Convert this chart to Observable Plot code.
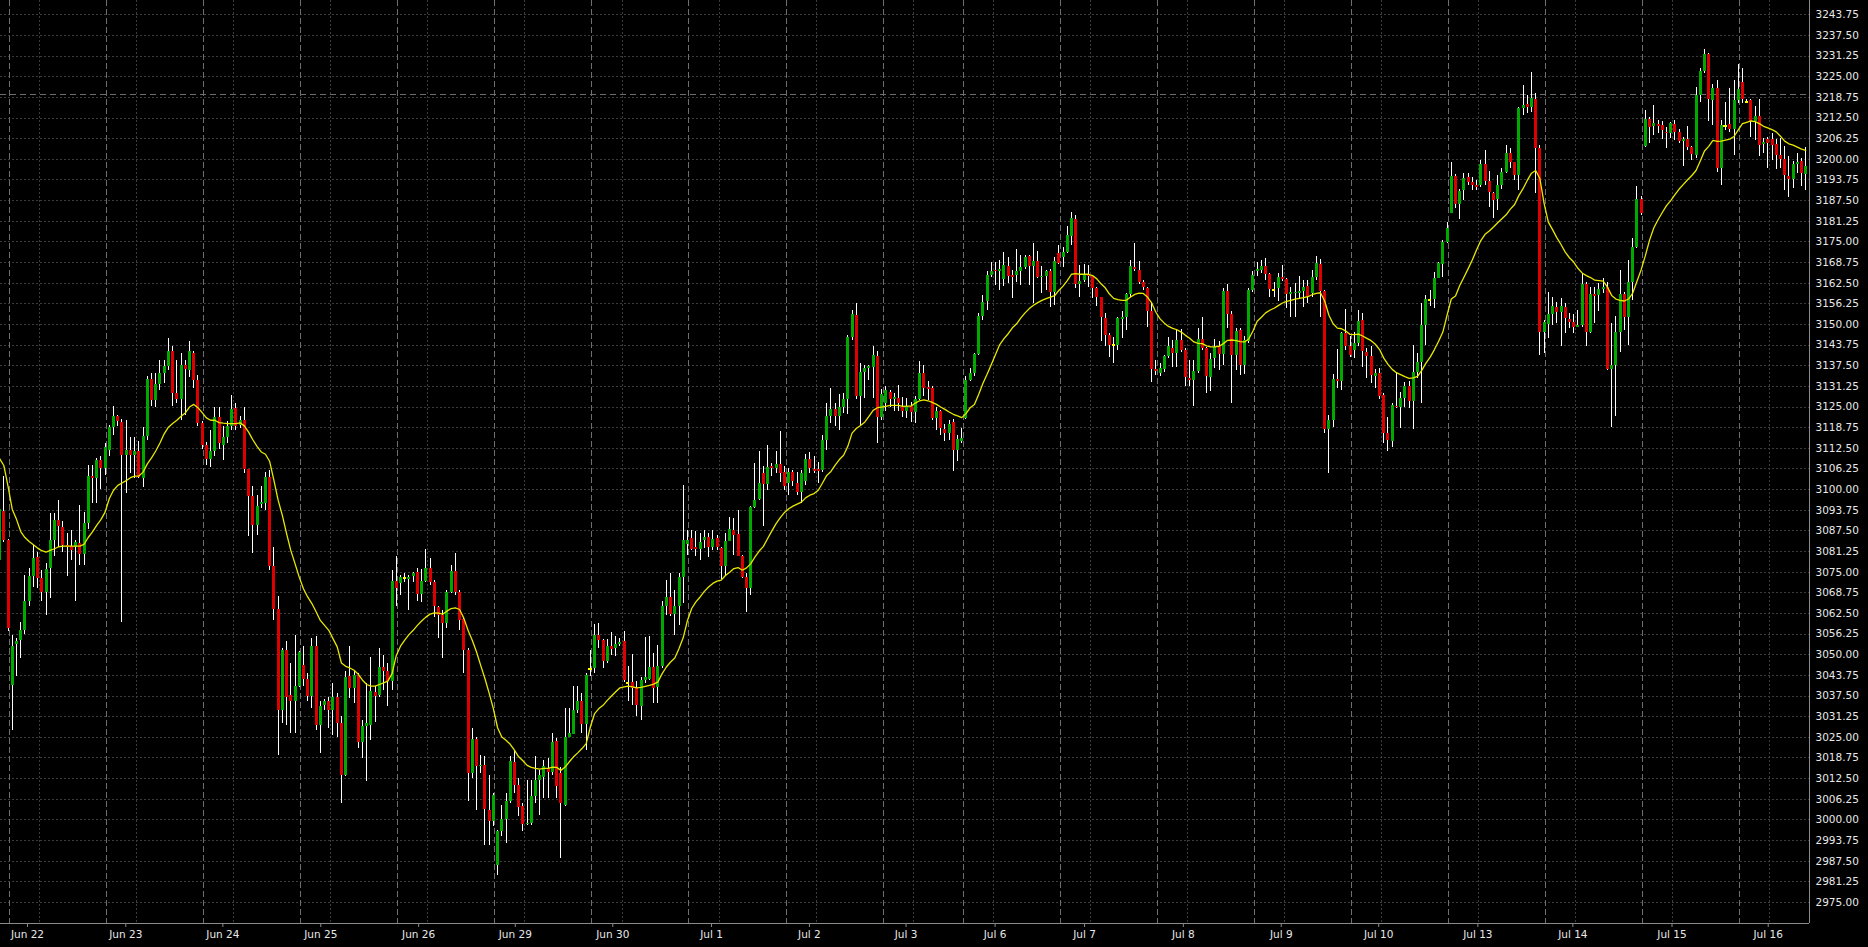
<!DOCTYPE html>
<html><head><meta charset="utf-8">
<script src="https://cdn.jsdelivr.net/npm/d3@7"></script>
<script src="https://cdn.jsdelivr.net/npm/@observablehq/plot@0.6"></script>
<style>
html,body{margin:0;padding:0;background:#000;}
#chart{width:1868px;height:947px;overflow:hidden;background:#000;}
</style></head><body><div id="chart"></div>
<script>
// ---- data (hourly bars, index 0..428) ----
const open = [
3078.6,3093.5,3084.6,3040.8,3053.0,3054.2,3057.4,3066.0,3073.6,3079.4,
3073.1,3069.0,3076.1,3084.6,3090.7,3088.5,3083.1,3082.8,3082.6,3083.8,
3080.4,3089.7,3104.1,3103.5,3108.9,3106.4,3111.9,3118.7,3122.2,3120.2,
3110.4,3111.9,3110.4,3111.4,3103.5,3116.1,3133.3,3127.0,3131.9,3135.1,
3137.3,3141.7,3129.2,3127.2,3137.7,3136.1,3141.3,3133.1,3120.0,3113.4,
3109.1,3111.4,3121.8,3113.4,3115.9,3119.2,3124.5,3119.5,3120.8,3106.0,
3097.8,3089.2,3095.5,3095.8,3103.8,3076.8,3063.7,3033.2,3051.2,3037.6,
3036.0,3040.5,3046.8,3042.5,3037.4,3052.4,3028.6,3034.7,3035.7,3033.0,
3037.2,3029.2,3013.4,3043.3,3039.8,3043.8,3023.3,3028.4,3028.7,3038.7,
3037.7,3046.0,3045.0,3041.8,3072.2,3071.5,3073.1,3072.7,3073.6,3074.8,
3068.2,3072.3,3076.2,3071.9,3064.2,3061.9,3059.4,3068.8,3075.1,3069.0,
3060.6,3051.4,3014.2,3024.4,3016.1,3016.6,3002.9,2999.6,2986.3,2996.6,
3000.1,3005.5,3017.3,3010.5,3004.1,2998.7,2998.9,3007.2,3011.8,3012.8,
3015.5,3014.5,3023.6,3014.2,3004.5,3025.1,3026.0,3033.0,3035.7,3029.0,
3045.8,3045.8,3055.9,3054.2,3048.1,3052.6,3051.9,3053.2,3053.9,3041.5,
3041.5,3039.8,3034.4,3042.3,3042.5,3046.0,3040.1,3046.5,3064.7,3067.3,
3062.3,3064.5,3073.4,3083.5,3085.2,3082.4,3081.8,3084.5,3085.5,3082.4,
3085.1,3082.1,3076.6,3084.4,3087.7,3086.4,3079.8,3073.4,3070.0,3094.5,
3097.0,3104.8,3101.6,3106.9,3106.4,3107.7,3105.3,3102.0,3105.3,3102.0,
3099.0,3102.6,3109.2,3106.0,3106.0,3105.8,3114.9,3122.2,3124.2,3122.0,
3125.0,3127.2,3146.2,3152.8,3128.2,3135.6,3136.6,3137.1,3140.3,3121.8,
3126.0,3129.5,3127.3,3127.5,3124.8,
3123.5,3125.2,3123.2,3127.3,3135.3,3130.8,3130.6,3121.5,3123.5,3118.2,
3116.9,3120.2,3111.9,3114.7,3121.5,3133.1,3135.3,3140.8,3152.4,3157.1,
3164.9,3166.4,3166.1,3163.7,3167.6,3164.9,3164.9,3165.9,3167.1,3170.6,
3167.4,3169.1,3164.2,3164.6,3166.1,3159.8,3171.4,3170.2,3171.9,3176.7,
3181.7,3162.0,3163.3,3165.2,3164.6,3160.8,3158.1,3151.9,3146.7,3143.7,
3143.7,3151.4,3152.2,3159.1,3167.1,3166.4,3162.8,3160.8,3153.8,3136.3,
3135.1,3136.3,3140.3,3142.7,3141.3,3145.2,3142.2,3133.6,3133.1,3135.8,3145.4,
3142.7,3133.9,3139.8,3143.2,3140.9,3160.0,3153.0,3140.6,3148.2,3137.6,
3144.7,3160.3,3165.9,3166.4,3167.4,3165.1,3160.3,3160.8,3164.3,3163.6,
3159.1,3159.5,3159.3,3160.0,3161.5,3159.3,3164.1,3168.2,3160.1,3118.1,
3120.8,3133.3,3132.6,3147.4,3143.4,3142.2,3144.2,3151.2,3141.4,3140.3,
3134.3,3135.3,3128.5,3117.1,3114.7,3125.2,3125.0,3127.5,3131.3,3126.8,
3135.6,3138.6,3149.7,3157.3,3157.5,3163.8,3168.2,3174.9,3183.7,3194.8,
3186.3,3190.6,3194.4,3193.1,3192.0,3192.1,3198.4,3193.4,3189.8,3187.8,3192.1,
3196.1,3201.7,3199.1,3195.1,3215.3,3216.6,3215.8,3218.0,
3203.2,3147.7,3150.0,3153.1,3155.0,3153.5,3155.0,3151.4,3150.7,3149.2,
3149.7,3162.1,3147.7,3159.1,3158.8,3160.5,3161.3,3136.3,3137.6,3147.7,
3159.1,3152.2,3162.6,3173.4,3187.7,3203.9,3212.0,3210.0,3210.6,3210.2,
3208.2,3207.7,3210.6,3208.2,3205.5,3206.0,3203.7,3201.2,3219.3,3226.7,
3231.7,3217.8,3221.3,3197.1,3210.0,3210.6,3209.0,3217.8,3223.4,3217.5,
3217.8,3211.3,3213.0,3204.5,3205.9,3205.9,3204.5,3201.2,3199.9,3194.8,
3193.8,3198.4,3199.2,3195.4];

const high = [
3096.0,3104.0,3085.0,3055.9,3054.9,3059.9,3074.1,3076.1,3083.1,3081.1,
3075.6,3077.6,3092.7,3092.7,3096.8,3090.2,3086.7,3087.7,3084.6,3095.2,
3093.2,3107.2,3107.2,3109.3,3110.0,3113.9,3119.5,3125.2,3122.5,3121.2,
3121.0,3115.9,3115.9,3114.7,3118.9,3134.1,3135.1,3135.1,3139.1,3139.1,
3145.7,3143.4,3139.1,3141.1,3139.1,3144.7,3141.7,3134.6,3120.5,3114.4,
3118.0,3124.8,3124.8,3119.0,3120.5,3128.5,3126.0,3122.0,3125.0,3106.0,
3100.8,3098.3,3100.8,3105.3,3105.8,3082.6,3067.5,3051.9,3053.9,3047.3,
3055.9,3050.9,3052.4,3044.3,3054.9,3055.4,3035.7,3036.5,3037.2,3041.3,
3038.2,3031.2,3044.8,3052.4,3044.8,3044.3,3030.2,3041.3,3049.1,3040.3,
3051.9,3049.8,3047.3,3075.6,3079.6,3074.1,3074.5,3074.1,3075.0,3076.1,
3075.8,3081.8,3079.1,3072.5,3064.5,3063.5,3069.5,3077.1,3080.8,3069.5,
3060.9,3051.9,3027.8,3025.1,3019.6,3019.3,3013.5,3008.0,2996.9,3004.5,
3008.0,3019.1,3021.1,3012.5,3004.9,3011.8,3012.0,3019.1,3015.0,3018.1,
3018.6,3026.3,3024.6,3016.0,3033.7,3033.7,3040.3,3040.3,3038.2,3044.3,
3051.4,3059.2,3059.4,3054.6,3054.6,3056.6,3055.6,3054.9,3057.1,3046.5,
3050.2,3041.8,3043.1,3055.2,3055.4,3050.4,3052.9,3066.0,3072.5,3074.6,
3069.5,3074.6,3101.3,3087.7,3087.7,3087.2,3086.7,3087.7,3086.7,3087.7,
3086.2,3082.6,3086.7,3091.7,3091.2,3093.7,3080.1,3074.6,3094.9,3107.9,
3111.4,3106.9,3113.4,3108.0,3111.4,3117.6,3106.9,3106.4,3105.8,3105.3,
3105.8,3110.7,3111.1,3109.9,3108.1,3116.4,3126.0,3130.6,3126.0,3128.8,
3129.0,3146.7,3154.3,3156.3,3138.1,3137.6,3137.6,3143.2,3141.7,3130.3,
3131.3,3130.1,3129.0,3131.6,3127.8,
3127.6,3126.5,3128.1,3138.8,3137.6,3132.6,3131.1,3125.0,3124.0,3119.8,
3121.0,3121.2,3116.4,3118.4,3134.1,3136.6,3141.1,3153.2,3158.8,3165.9,
3168.9,3168.9,3169.4,3171.7,3170.2,3166.4,3172.6,3170.9,3170.9,3170.9,
3174.6,3172.2,3167.6,3166.4,3166.6,3170.2,3173.9,3173.4,3179.7,3184.0,
3183.0,3167.9,3168.2,3167.9,3164.9,3161.3,3158.3,3153.2,3147.2,3146.2,
3152.2,3153.8,3159.5,3169.4,3174.4,3169.2,3163.3,3161.1,3156.8,3139.1,
3138.1,3140.6,3146.0,3145.2,3148.4,3148.4,3142.7,3139.1,3139.1,3148.7,3152.2,
3143.0,3141.1,3145.4,3144.7,3160.8,3162.1,3153.8,3148.7,3148.7,3146.4,
3160.8,3166.0,3168.9,3169.4,3169.9,3165.4,3162.8,3165.4,3167.7,3163.8,
3161.3,3162.3,3164.5,3163.3,3163.3,3166.2,3170.6,3169.7,3160.3,3122.5,
3134.9,3142.4,3147.7,3154.5,3146.4,3147.7,3154.1,3153.3,3142.7,3143.2,
3136.3,3136.6,3129.0,3121.8,3126.0,3135.1,3129.5,3132.3,3132.6,3143.7,
3141.1,3156.3,3158.8,3160.3,3165.6,3168.9,3175.4,3181.0,3199.1,3195.4,
3190.8,3195.8,3195.8,3194.6,3193.6,3199.7,3202.7,3196.4,3190.1,3195.1,3197.1,
3204.2,3203.2,3199.1,3215.8,3222.4,3219.3,3226.2,3219.8,
3204.2,3151.2,3159.8,3158.3,3156.8,3157.8,3156.3,3153.3,3153.1,3154.3,
3165.4,3162.8,3161.1,3161.3,3162.3,3163.8,3162.8,3150.2,3152.4,3166.4,
3159.8,3169.4,3176.0,3191.8,3188.8,3214.8,3212.8,3216.3,3211.8,3211.3,
3209.5,3211.0,3211.6,3209.0,3206.7,3210.0,3203.9,3221.8,3227.4,3233.1,
3231.9,3222.7,3223.9,3211.8,3217.3,3221.3,3223.9,3228.7,3227.4,3218.0,
3218.0,3216.0,3218.0,3206.2,3206.7,3207.9,3205.9,3206.2,3203.9,3200.7,
3199.2,3201.7,3200.2,3203.5];

const low = [
3076.0,3084.0,3056.9,3027.1,3043.3,3048.8,3056.0,3064.5,3070.5,3070.0,
3066.0,3061.9,3067.0,3079.6,3082.6,3081.1,3073.6,3078.6,3066.0,3077.0,
3077.1,3088.0,3095.8,3095.8,3100.0,3104.3,3110.0,3116.4,3119.0,3059.9,
3098.8,3104.8,3103.3,3103.3,3100.5,3115.0,3125.2,3125.0,3130.1,3132.1,
3136.0,3125.2,3126.0,3121.0,3122.5,3134.0,3130.6,3119.0,3112.0,3107.3,
3106.6,3110.0,3112.0,3108.9,3114.0,3118.0,3118.0,3118.5,3105.0,3085.7,
3080.6,3086.2,3094.2,3093.7,3075.6,3060.4,3019.6,3029.1,3028.6,3026.3,
3026.3,3040.0,3040.4,3036.0,3033.7,3027.1,3020.1,3033.0,3027.6,3025.6,
3025.1,3005.0,3013.0,3036.7,3035.2,3021.6,3018.6,3011.5,3024.1,3029.6,
3037.2,3039.3,3034.2,3039.3,3064.5,3068.0,3072.0,3063.5,3072.0,3066.0,
3065.7,3072.0,3071.0,3061.4,3054.9,3048.8,3057.9,3068.5,3068.0,3057.4,
3044.3,3005.5,3012.5,3002.9,3014.0,2992.3,2992.3,2998.0,2983.3,2995.0,
2992.8,3005.0,3008.0,3000.9,2996.4,2998.4,2998.4,3004.9,3001.4,3006.5,
3006.5,3013.5,3006.5,2988.3,3004.0,3025.0,3025.9,3032.2,3026.1,3021.1,
3043.3,3044.3,3052.0,3045.8,3047.3,3049.9,3049.5,3052.4,3041.5,3035.7,
3034.7,3031.4,3030.0,3041.3,3042.3,3035.2,3035.2,3045.8,3062.0,3061.5,
3055.9,3058.9,3065.5,3080.1,3081.6,3079.6,3078.6,3082.1,3079.4,3081.6,
3081.6,3072.8,3073.6,3084.2,3080.1,3079.6,3073.1,3062.7,3068.0,3094.3,
3096.8,3088.9,3099.8,3104.0,3104.8,3102.3,3099.8,3098.3,3100.8,3098.3,
3095.8,3101.3,3104.8,3104.8,3101.8,3105.3,3111.9,3120.0,3119.0,3117.9,
3123.0,3122.8,3145.0,3127.3,3119.0,3127.5,3133.1,3127.5,3114.1,3121.0,
3123.5,3125.0,3123.5,3123.5,3121.8,
3121.5,3120.2,3120.0,3127.0,3128.1,3127.0,3121.0,3117.9,3116.4,3114.7,
3114.9,3105.6,3108.4,3113.9,3121.2,3132.6,3134.1,3140.6,3151.2,3154.3,
3164.2,3161.8,3160.3,3161.5,3162.3,3157.8,3162.8,3161.8,3166.6,3161.8,
3156.3,3163.8,3159.3,3160.3,3155.1,3155.8,3168.2,3167.2,3171.4,3173.9,
3161.0,3158.1,3162.8,3161.3,3158.0,3155.3,3144.7,3143.2,3140.1,3138.1,
3142.0,3145.7,3148.2,3158.3,3165.9,3162.1,3160.3,3149.0,3132.3,3134.6,
3134.3,3135.6,3139.6,3137.1,3136.9,3141.6,3131.1,3131.1,3125.3,3135.1,3142.2,
3129.0,3129.8,3136.6,3136.1,3137.6,3148.7,3126.0,3136.1,3134.6,3134.9,
3144.2,3159.8,3164.5,3165.4,3163.3,3158.1,3158.1,3157.1,3163.1,3154.8,
3152.0,3152.2,3157.8,3155.1,3156.3,3158.1,3163.3,3152.2,3116.9,3105.0,
3118.9,3130.6,3130.1,3142.2,3140.1,3139.6,3143.2,3137.1,3133.6,3132.1,
3130.6,3127.2,3113.9,3111.4,3112.9,3124.5,3118.4,3125.0,3124.5,3118.1,
3133.6,3126.2,3143.7,3155.3,3154.8,3163.8,3164.3,3174.4,3183.5,3185.0,
3181.7,3187.6,3192.1,3190.6,3190.6,3191.6,3192.1,3185.5,3182.0,3184.5,3191.0,
3195.6,3197.1,3193.6,3190.6,3213.3,3214.0,3214.3,3189.6,
3140.6,3141.1,3145.7,3149.7,3150.2,3143.2,3147.2,3148.7,3147.2,3149.2,
3149.2,3143.2,3147.2,3150.2,3153.8,3159.3,3136.1,3118.9,3122.2,3141.6,
3148.2,3143.7,3157.3,3172.9,3183.0,3203.7,3204.7,3207.2,3207.7,3205.9,
3203.2,3206.2,3205.7,3204.7,3197.7,3202.7,3199.7,3200.2,3217.3,3225.9,
3211.3,3210.2,3196.1,3192.1,3208.7,3208.2,3201.2,3216.8,3216.8,3216.8,
3206.7,3205.7,3200.7,3201.7,3197.1,3199.7,3196.8,3197.1,3190.6,3188.4,
3191.1,3195.8,3191.8,3190.6];

const close = [
3094.0,3084.6,3057.9,3052.4,3053.9,3057.4,3066.0,3073.6,3079.1,3073.1,
3069.0,3075.8,3084.6,3090.7,3088.7,3083.1,3082.6,3081.6,3084.1,3080.4,
3089.7,3104.0,3103.5,3108.9,3106.4,3112.9,3118.7,3122.2,3120.5,3110.4,
3111.9,3110.4,3111.4,3103.8,3116.1,3133.3,3127.0,3131.9,3135.1,3137.3,
3141.7,3129.2,3127.3,3137.6,3136.3,3141.7,3132.9,3120.0,3113.4,3109.1,
3111.4,3121.8,3113.9,3115.9,3119.2,3124.2,3119.2,3120.8,3106.0,3097.8,
3089.2,3094.9,3096.0,3103.8,3076.6,3063.7,3033.2,3051.2,3037.2,3036.0,
3040.5,3050.6,3042.5,3037.4,3052.4,3028.6,3034.4,3035.7,3033.0,3037.2,
3029.2,3013.4,3043.0,3039.8,3043.8,3023.3,3028.4,3029.2,3038.9,3037.5,
3046.0,3044.8,3042.0,3072.2,3070.2,3073.4,3073.1,3073.3,3074.6,3068.2,
3072.3,3076.0,3071.9,3064.5,3061.9,3059.4,3068.8,3075.1,3069.0,3060.4,
3051.4,3014.2,3024.4,3016.3,3016.6,3003.3,2999.6,3007.5,2996.6,3000.1,
3005.5,3017.6,3010.5,3003.9,2998.7,2999.0,3007.2,3011.8,3013.4,3016.2,
3014.5,3023.3,3010.0,3005.0,3025.1,3026.3,3033.2,3035.9,3029.0,3043.6,
3045.8,3055.9,3054.2,3048.1,3052.6,3051.6,3053.2,3053.7,3042.1,3041.5,
3039.8,3034.7,3042.3,3043.0,3046.0,3039.8,3046.5,3064.7,3067.3,3062.3,
3064.5,3073.4,3084.7,3084.7,3081.8,3081.8,3084.0,3085.5,3082.4,3085.0,
3082.4,3076.8,3084.4,3087.9,3086.2,3079.8,3073.4,3070.0,3094.5,3096.8,
3102.0,3101.6,3106.6,3106.4,3107.7,3105.0,3100.8,3105.3,3102.6,3099.0,
3104.8,3109.2,3106.4,3105.6,3105.6,3114.9,3122.2,3124.2,3122.0,3125.0,
3127.2,3146.2,3153.1,3128.2,3135.6,3136.6,3137.3,3140.6,3121.8,3128.7,
3130.1,3127.3,3127.8,3126.2,3123.5,
3125.2,3123.2,3127.3,3135.3,3130.6,3130.3,3121.5,3123.7,3118.4,3116.9,
3119.8,3111.7,3115.1,3115.6,3133.1,3135.1,3140.8,3152.4,3156.8,3164.9,
3165.9,3165.9,3166.6,3167.8,3164.6,3164.3,3165.9,3167.1,3170.4,3167.4,
3169.1,3164.3,3164.6,3166.1,3159.8,3169.1,3168.4,3171.9,3176.9,3182.0,
3162.0,3163.0,3165.1,3164.6,3160.8,3158.1,3152.2,3146.7,3143.7,3143.7,
3151.7,3152.2,3159.1,3167.6,3166.6,3162.8,3161.1,3153.8,3136.3,3135.9,
3136.6,3140.3,3143.2,3141.3,3145.0,3142.2,3133.8,3133.1,3135.8,3145.4,3142.7,
3134.1,3139.4,3143.0,3140.9,3160.0,3153.0,3140.6,3148.0,3137.6,3145.2,
3160.3,3164.9,3166.6,3167.4,3165.2,3160.5,3160.3,3164.3,3163.7,3159.1,
3159.8,3159.8,3160.0,3161.1,3158.1,3164.1,3168.6,3160.1,3118.1,3120.8,
3133.3,3132.6,3147.4,3143.4,3140.6,3144.2,3151.0,3141.7,3140.3,3134.6,
3135.3,3128.2,3116.9,3114.9,3125.5,3124.8,3127.5,3131.3,3126.8,3135.6,
3138.6,3149.7,3157.5,3157.3,3163.8,3168.4,3174.9,3179.0,3194.8,3186.3,
3190.4,3194.1,3193.1,3192.1,3191.4,3198.4,3193.4,3190.1,3187.6,3192.1,3196.1,
3201.7,3199.1,3195.1,3215.3,3216.3,3215.8,3218.3,3203.2,
3147.7,3150.7,3153.1,3155.3,3153.5,3155.3,3151.7,3150.7,3149.2,3149.7,
3162.1,3147.7,3159.1,3158.6,3160.5,3161.1,3136.3,3137.6,3147.7,3159.1,
3152.2,3162.6,3173.4,3187.7,3183.5,3212.0,3209.5,3210.8,3210.0,3208.6,
3207.7,3210.8,3208.2,3205.5,3206.0,3203.7,3201.5,3219.3,3226.7,3231.7,
3218.0,3221.3,3197.1,3210.2,3210.0,3209.0,3217.8,3221.0,3218.0,3217.5,
3211.3,3213.0,3204.2,3205.2,3204.9,3204.2,3201.2,3199.9,3195.1,3193.8,
3198.4,3198.9,3195.6,3197.8];

// moving average (yellow line), read per bar
const movingAvg = [
3109.4,3107.3,3101.0,3094.0,3091.0,3087.3,3085.5,3084.3,3083.3,3082.3,
3081.5,3081.1,3081.6,3082.1,3082.7,3082.9,3082.9,3082.9,3082.9,3082.9,
3083.4,3085.5,3087.2,3089.2,3090.9,3093.2,3097.3,3099.8,3101.3,3102.0,
3102.7,3103.6,3104.1,3104.1,3105.3,3107.8,3109.6,3111.7,3114.1,3116.9,
3118.9,3120.0,3121.0,3122.2,3123.2,3125.0,3125.8,3124.8,3123.3,3121.7,
3121.0,3121.0,3120.3,3120.1,3120.0,3120.0,3120.0,3120.2,3119.3,3117.4,
3115.1,3113.1,3111.4,3110.7,3108.5,3102.8,3096.8,3092.2,3086.7,3081.6,
3077.6,3073.5,3070.0,3067.5,3065.5,3063.0,3060.4,3058.9,3057.4,3054.9,
3052.4,3047.5,3046.5,3046.0,3045.3,3044.1,3042.3,3041.0,3040.5,3040.5,
3041.0,3041.5,3042.0,3044.3,3049.8,3052.6,3054.4,3056.1,3057.4,3058.9,
3060.2,3061.4,3062.3,3062.7,3062.6,3062.3,3063.2,3064.0,3064.2,3063.7,
3061.1,3057.4,3054.4,3050.9,3046.8,3042.8,3038.4,3033.7,3027.9,3025.1,
3024.1,3022.9,3021.1,3019.1,3017.9,3016.5,3015.9,3015.6,3015.4,3015.6,
3015.6,3016.0,3015.9,3015.0,3016.0,3017.6,3019.1,3020.3,3021.6,3023.1,
3028.2,3032.2,3033.7,3034.7,3036.2,3037.5,3038.8,3040.0,3040.3,3040.5,
3040.3,3040.0,3040.1,3040.4,3040.7,3041.1,3041.8,3044.3,3046.3,3047.8,
3049.0,3051.9,3055.2,3060.4,3064.0,3066.0,3067.5,3069.2,3070.5,3071.6,
3072.3,3072.6,3074.0,3075.0,3076.1,3076.4,3075.6,3076.3,3077.6,3079.6,
3081.4,3082.8,3085.2,3087.5,3089.7,3091.5,3093.1,3094.2,3095.0,3095.6,
3096.2,3097.5,3098.3,3098.8,3099.8,3102.0,3104.3,3105.5,3107.4,3109.1,
3110.4,3113.1,3117.1,3118.5,3119.4,3120.4,3122.2,3124.0,3124.8,3125.0,
3125.2,3125.5,3125.5,3125.5,3125.2,
3125.3,3125.3,3126.2,3126.9,3127.2,3126.9,3126.4,3125.8,3125.0,3124.3,
3123.5,3122.8,3122.3,3121.8,3123.0,3124.8,3125.8,3128.8,3132.1,3134.9,
3137.9,3140.9,3143.9,3145.7,3147.2,3149.0,3150.2,3152.0,3153.5,3154.8,
3155.8,3156.6,3157.3,3157.8,3158.3,3158.7,3160.3,3161.6,3163.3,3165.2,
3165.4,3165.2,3165.2,3165.2,3164.8,3163.8,3162.3,3161.1,3159.2,3157.9,
3157.5,3157.3,3157.3,3158.3,3159.1,3159.5,3159.4,3158.3,3156.5,3153.7,
3151.7,3150.4,3149.4,3148.8,3148.4,3147.7,3146.7,3145.8,3144.7,3144.3,3144.2,
3143.5,3143.2,3143.2,3143.4,3144.2,3145.2,3145.3,3145.1,3144.8,3144.7,
3145.6,3148.0,3151.0,3152.2,3153.5,3154.3,3154.9,3155.7,3156.5,3157.0,
3157.3,3157.7,3157.9,3158.1,3158.4,3159.0,3159.4,3159.6,3157.1,3152.8,
3150.2,3148.9,3148.7,3148.0,3147.0,3146.9,3147.1,3146.5,3145.8,3145.1,
3144.0,3142.4,3139.8,3137.9,3136.4,3135.4,3134.8,3134.2,3133.7,3133.8,
3134.3,3136.1,3138.3,3140.1,3142.4,3144.9,3147.7,3152.8,3157.7,3158.6,
3161.8,3164.3,3166.9,3169.6,3172.6,3175.4,3177.3,3178.3,3179.5,3180.8,3182.0,
3183.2,3184.9,3186.3,3189.0,3191.1,3193.6,3195.8,3196.6,
3194.1,3186.6,3181.0,3178.7,3176.3,3174.2,3171.9,3170.2,3168.9,3167.0,
3165.6,3164.8,3164.2,3163.4,3163.3,3163.1,3161.3,3158.8,3157.7,3157.3,
3157.1,3157.7,3159.5,3163.1,3166.6,3170.9,3175.6,3179.3,3181.7,3183.9,
3186.0,3187.5,3189.3,3191.0,3192.4,3193.8,3195.1,3196.6,3199.5,3202.5,
3203.9,3205.7,3205.4,3205.5,3205.8,3206.1,3206.9,3208.9,3210.8,3211.2,
3211.6,3211.4,3210.8,3210.0,3209.5,3209.0,3208.3,3207.0,3205.5,3204.7,
3204.3,3203.7,3203.1,3202.7];

const dayLabels = ["Jun 22","Jun 23","Jun 24","Jun 25","Jun 26","Jun 29","Jun 30","Jul 1","Jul 2","Jul 3",
                   "Jul 6","Jul 7","Jul 8","Jul 9","Jul 10","Jul 13","Jul 14","Jul 15","Jul 16"];
const dayStartBar = [3,26,49,72,95,118,141,164,187,210,229,252,275,298,321,344,367,390,413];
// bar position of each date label
const labelBar = [6.6,29.9,52.9,76.1,99.3,122.2,145.3,168.7,191.9,214.8,235.9,257.1,280.5,303.7,326.8,350.3,372.8,396.3,419.1];
const priceLevel = 3219.5;
const yTickValues = d3.range(0, 44).map(k => 2975 + 6.25 * k);

// ---- build ----
const bars = open.map((o, i) => {
  const c = close[i];
  return {i, o, c, h: Math.max(high[i], o, c), l: Math.min(low[i], o, c)};
});
const minBody = 0.35;
const bodyOf = d => {
  const top = Math.max(d.o, d.c), bot = Math.min(d.o, d.c);
  if (top - bot < minBody) { const m = (top + bot) / 2; return [m + minBody / 2, m - minBody / 2]; }
  return [top, bot];
};
const upBars = bars.filter(d => d.c > d.o);
const downBars = bars.filter(d => d.c < d.o);
const dojiBars = bars.filter(d => d.c === d.o);
const maData = movingAvg.map((v, i) => ({i, v}));
const labelByPos = new Map(labelBar.map((p, k) => [p, dayLabels[k]]));

const X0 = 0.211, X1 = 428.884, Y0 = 2968.64, Y1 = 3248.08;
const GREEN = "#00a800", RED = "#dd0000", YEL = "#e8e800";

const chart = Plot.plot({
  width: 1868, height: 947,
  marginLeft: 0, marginRight: 59, marginTop: 0, marginBottom: 24,
  style: {background: "#000", color: "#e8e8e8", fontFamily: "DejaVu Sans, sans-serif", fontSize: "10.5px"},
  x: {type: "linear", domain: [X0, X1], axis: null, label: null},
  y: {type: "linear", domain: [Y0, Y1], axis: null, label: null},
  marks: [
    Plot.gridY(yTickValues, {stroke: "#3c3c3c", strokeOpacity: 1, strokeDasharray: "2,2", shapeRendering: "crispEdges"}),
    Plot.ruleX(dayStartBar.map(s => s + 6.5), {stroke: "#3c3c3c", strokeDasharray: "2,2", shapeRendering: "crispEdges"}),
    Plot.ruleX(dayStartBar.map(s => s - 0.65), {stroke: "#6e6e6e", strokeDasharray: "6,3", shapeRendering: "crispEdges"}),
    Plot.ruleY([priceLevel], {stroke: "#6e6e6e", strokeDasharray: "6,4", shapeRendering: "crispEdges"}),
    Plot.ruleX(bars, {x: "i", y1: "l", y2: "h", stroke: "#ffffff", strokeWidth: 1, shapeRendering: "crispEdges"}),
    Plot.ruleX(upBars, {x: "i", y1: d => bodyOf(d)[1], y2: d => bodyOf(d)[0], stroke: GREEN, strokeWidth: 3, shapeRendering: "crispEdges"}),
    Plot.ruleX(downBars, {x: "i", y1: d => bodyOf(d)[1], y2: d => bodyOf(d)[0], stroke: RED, strokeWidth: 3, shapeRendering: "crispEdges"}),
    Plot.ruleY(dojiBars, {y: "o", x1: d => d.i - 0.38, x2: d => d.i + 0.38, stroke: "#ffff00", strokeWidth: 2, shapeRendering: "crispEdges"}),
    Plot.line(maData, {x: "i", y: "v", stroke: YEL, strokeWidth: 1.3}),
    Plot.ruleX([X1], {stroke: "#8a8a8a", shapeRendering: "crispEdges"}),
    Plot.ruleY([Y0], {stroke: "#8a8a8a", shapeRendering: "crispEdges"}),
    Plot.axisY(yTickValues, {anchor: "right", label: null, tickSize: 0, tickPadding: 6, tickFormat: d => d.toFixed(2), fill: "#e8e8e8", fontSize: 10.5}),
    Plot.axisX(labelBar, {anchor: "bottom", label: null, tickSize: 4, tickPadding: 3, stroke: "#8a8a8a", tickFormat: d => labelByPos.get(d), fill: "#e8e8e8", fontSize: 10.5})
  ]
});
document.getElementById("chart").appendChild(chart);
</script>
</body></html>
